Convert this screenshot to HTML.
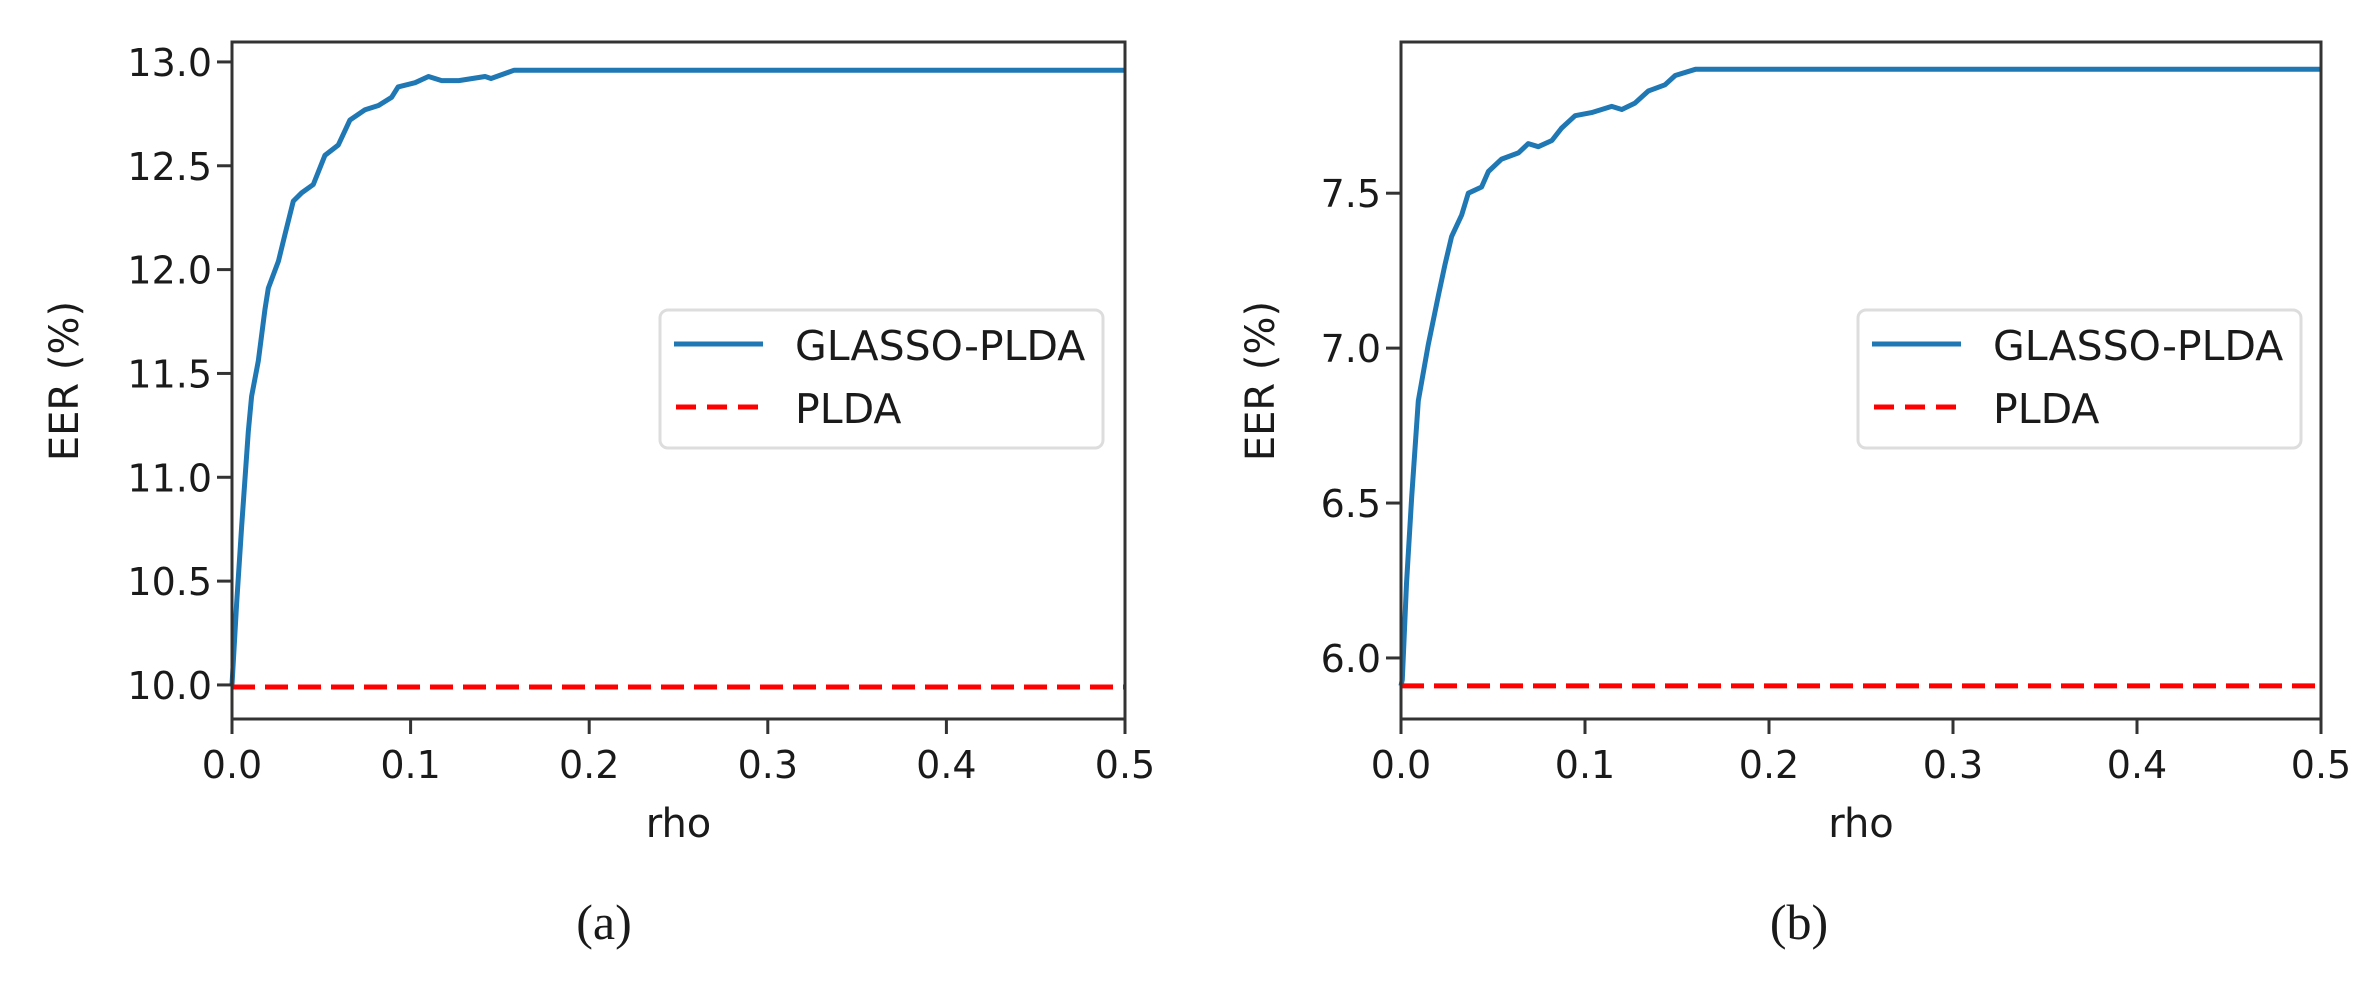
<!DOCTYPE html>
<html><head><meta charset="utf-8">
<style>
html,body{margin:0;padding:0;background:#fff;}
svg{display:block;}
text{font-family:"DejaVu Sans","Liberation Sans",sans-serif;fill:#1a1a1a;}
.cap{font-family:"Liberation Serif",serif;}
</style></head>
<body>
<svg id="fig" width="2374" height="982" viewBox="0 0 2374 982" xmlns="http://www.w3.org/2000/svg"></svg>
<script>
// Panel (a) data
const rhoA = [0,0.0026,0.0054,0.0091,0.011,0.0147,0.0185,0.0203,0.026,0.0297,0.0343,0.039,0.0455,0.052,0.0595,0.066,0.0745,0.082,0.0894,0.093,0.1025,0.11,0.1174,0.127,0.1417,0.145,0.158,0.5];
const eerA = [10.0,10.39,10.76,11.22,11.39,11.56,11.81,11.91,12.04,12.17,12.33,12.37,12.41,12.55,12.60,12.72,12.77,12.79,12.83,12.88,12.90,12.93,12.91,12.91,12.93,12.92,12.96,12.96];
const pldaA = 9.99;
const yTicksA = [10.0,10.5,11.0,11.5,12.0,12.5,13.0];
// Panel (b) data
const rhoB = [0,0.0007,0.003,0.0058,0.0094,0.0148,0.0203,0.0239,0.0275,0.033,0.0366,0.0438,0.0475,0.0547,0.0638,0.0692,0.0746,0.082,0.0873,0.0946,0.1036,0.1145,0.12,0.127,0.1344,0.1435,0.149,0.16,0.5];
const eerB = [5.91,5.93,6.24,6.52,6.83,7.01,7.17,7.27,7.36,7.43,7.50,7.52,7.57,7.61,7.63,7.66,7.65,7.67,7.71,7.75,7.76,7.78,7.77,7.79,7.83,7.85,7.88,7.90,7.90];
const pldaB = 5.91;
const yTicksB = [6.0,6.5,7.0,7.5];
const xTicks = [0.0,0.1,0.2,0.3,0.4,0.5];
const legendLabels = ["GLASSO-PLDA","PLDA"];

const NS="http://www.w3.org/2000/svg";
const svg=document.getElementById('fig');
function mk(tag,attrs,parent){const e=document.createElementNS(NS,tag);for(const k in attrs)e.setAttribute(k,attrs[k]);(parent||svg).appendChild(e);return e;}

function panel(cfg){
  const g=mk('g',{});
  
  
  const L=cfg.L,R=cfg.R,T=42,B=719;
  const sx=v=>L+(v-0)/(0.5-0)*(R-L);
  const sy=v=>T+(cfg.ymax-v)/(cfg.ymax-cfg.ymin)*(B-T);
  // series
  const pts=cfg.rho.map((r,i)=>sx(r).toFixed(1)+','+sy(cfg.eer[i]).toFixed(1)).join(' ');
  const line=mk('polyline',{points:pts,fill:'none',stroke:'#1f77b4','stroke-width':5,'stroke-linejoin':'round'},g);
  
  
  const pl=mk('line',{x1:L,x2:R,y1:sy(cfg.plda),y2:sy(cfg.plda),stroke:'#ff0000','stroke-width':5,'stroke-dasharray':'23 10'},g);
  
  
  // frame
  const fr=mk('rect',{x:L,y:T,width:R-L,height:B-T,fill:'none',stroke:'#333','stroke-width':3},g);
  
  
  // y ticks
  cfg.yt.forEach(v=>{
    const y=sy(v);
    mk('line',{x1:L-15,x2:L,y1:y,y2:y,stroke:'#333','stroke-width':3},g);
    const t=mk('text',{x:L-20,y:y+14,'text-anchor':'end','font-size':38},g);
    t.textContent=v.toFixed(1);
    
    
  });
  xTicks.forEach(v=>{
    const x=sx(v);
    mk('line',{x1:x,x2:x,y1:B,y2:B+15,stroke:'#333','stroke-width':3},g);
    const t=mk('text',{x:x,y:778,'text-anchor':'middle','font-size':38},g);
    t.textContent=v.toFixed(1);
    
    
  });
  const xl=mk('text',{x:(L+R)/2,y:837,'text-anchor':'middle','font-size':40},g);
  xl.textContent='rho';
  
  
  const yl=mk('text',{x:0,y:0,'text-anchor':'middle','font-size':40,transform:'translate('+(cfg.ylx+14)+',381) rotate(-90)'},g);
  yl.textContent='EER (%)';
  
  
  // legend
  const lg=mk('g',{},g);
  
  
  const lx=cfg.legX;
  mk('rect',{x:lx,y:310,width:443,height:138,rx:8,fill:'#fff',stroke:'#ddd','stroke-width':3},lg);
  mk('line',{x1:lx+14,x2:lx+103,y1:344,y2:344,stroke:'#1f77b4','stroke-width':5},lg);
  mk('line',{x1:lx+16,x2:lx+103,y1:407,y2:407,stroke:'#ff0000','stroke-width':5,'stroke-dasharray':'20 11'},lg);
  legendLabels.forEach((s,i)=>{
    const t=mk('text',{x:lx+135,y:360+i*63,'font-size':41},lg);
    t.textContent=s;
    
    
  });
  const c=mk('text',{x:cfg.capX,y:939,'text-anchor':'middle','font-size':50,'class':'cap'},g);
  c.textContent=cfg.cap;
  
  
}
panel({name:'panel-a',L:232,R:1125,ymin:9.836,ymax:13.096,rho:rhoA,eer:eerA,plda:pldaA,yt:yTicksA,ylx:64,legX:660,capX:604,cap:'(a)'});
panel({name:'panel-b',L:1401,R:2321,ymin:5.803,ymax:7.988,rho:rhoB,eer:eerB,plda:pldaB,yt:yTicksB,ylx:1260,legX:1858,capX:1799,cap:'(b)'});
</script>
</body></html>
